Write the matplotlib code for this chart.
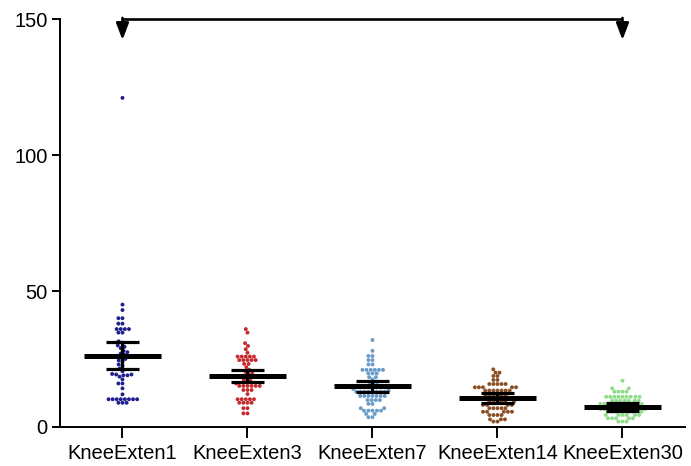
import numpy as np
import pandas as pd
import matplotlib
matplotlib.use("Agg")
import matplotlib.pyplot as plt
import seaborn as sns

groups = ["KneeExten1", "KneeExten3", "KneeExten7", "KneeExten14", "KneeExten30"]
colors = ["#1f1f8f", "#c62a2f", "#6a9bc9", "#8a4f24", "#8fdc8a"]

knee1 = [121, 45, 43, 40, 40, 38, 38, 36, 36, 36, 36, 34.7, 34.7, 31.5, 31, 30,
         29.5, 29, 28, 27.5, 27, 26.5, 26, 25.5, 25, 24.5, 24, 23, 22.5, 21.5,
         20.5, 19.5, 19.3, 19.3, 19, 19, 18.5, 17.5, 16, 16, 14.2, 12,
         10.2, 10.2, 10.2, 10.2, 10.2, 10.2, 10.2, 10.2, 8.9, 8.9, 8.9]
knee3 = [36, 34.7, 30.8, 29.8, 28.6, 27.3, 25.9, 25.9, 25.9, 25.9, 25.9,
         24.6, 24.6, 24.6, 24.6, 24.6, 23.2, 23.2, 22, 21, 20.5, 20, 19.5, 19,
         18.5, 18, 17.5, 17, 16.5, 16, 15.1, 15.1, 15.1, 15.1, 15.1, 15.1,
         13.6, 13.6, 13.6, 12.1, 10.2, 10.2, 10.2, 10.2, 10.2,
         8.9, 8.9, 8.9, 8.9, 6.9, 6.9, 5, 5]
knee7 = [32, 28, 26.1, 26.1, 24.6, 24.6, 23, 23, 21, 21, 21, 21, 21, 21,
         19.7, 19.7, 19.7, 18.3, 18.3, 17.5, 16.5, 16, 15.5, 15, 14.5, 14, 13.5,
         13, 13, 13, 13, 13, 13, 13, 13, 11.4, 11.4, 11.4, 11.4, 11.4, 11.4, 11.4,
         9.9, 9.9, 9.9, 9.9, 8.5, 8.5, 6.9, 6.9, 6, 6, 6, 6, 6, 4.8, 4.8, 3.6, 3.6]
knee14 = [21.2, 20, 20, 18.75, 18.75, 17.3, 17.3, 15.8, 15.8, 15.8, 15.8, 15.8,
          14.6, 14.6, 14.6, 14.6, 14.6, 13.4, 13.4, 13.4, 13.4, 13.4, 13.4, 13.4,
          11.8, 11.8, 11.8, 11.8, 11.8, 11.8, 10.5, 10.5, 10.5, 10.5, 10.5, 10.5,
          9.3, 9.3, 9.3, 9.3, 9.3, 9.3, 8.1, 8.1, 8.1, 8.1,
          6.9, 6.9, 6.9, 6.9, 6.9, 5.6, 5.6, 5.6, 5.6, 5.6,
          4.4, 4.4, 4.4, 4.4, 2.8, 2.8, 2.8, 2, 2]
knee30 = [17, 14.2, 14.2, 13, 13, 13, 13, 11.1, 11.1, 11.1, 11.1, 11.1, 11.1,
          11.1, 11.1, 11.1, 9.7, 9.7, 9.7, 9.7, 9.7, 9.7, 9.7,
          8.5, 8.5, 8.5, 8.5, 8.5, 8.5, 7.5, 7.5, 7.5, 7.5, 7.5, 7.5,
          6.5, 6.5, 6.5, 6.5, 6.5, 5.6, 5.6, 5.6, 5.6, 5.6, 5.6,
          4.4, 4.4, 4.4, 4.4, 4.4, 4.4, 3.2, 3.2, 3.2, 3.2, 3.2, 2, 2, 2]

# mean and error limits for each group
means = [26.1, 18.8, 15.1, 10.5, 7.5]
err_low = [21.2, 16.4, 13.0, 8.7, 5.9]
err_high = [31.4, 21.0, 17.0, 12.6, 8.9]

values = [knee1, knee3, knee7, knee14, knee30]
df = pd.DataFrame({
    "group": np.repeat(groups, [len(v) for v in values]),
    "value": np.concatenate(values),
})

plt.rcParams["font.family"] = ["Liberation Sans", "DejaVu Sans"]

fig = plt.figure(figsize=(6.91, 4.66), dpi=100)
ax = fig.add_axes([0.0868, 0.0837, 0.9045, 0.8755])

sns.swarmplot(data=df, x="group", y="value", hue="group", order=groups,
              hue_order=groups, palette=colors, size=2.8, legend=False, ax=ax,
              zorder=2)

pos = np.arange(len(groups))
ax.hlines(means, pos - 0.31, pos + 0.31, color="black", lw=3.6, zorder=4)
ax.hlines(err_low, pos - 0.13, pos + 0.13, color="black", lw=2.3, zorder=4)
ax.hlines(err_high, pos - 0.13, pos + 0.13, color="black", lw=2.3, zorder=4)
ax.vlines(pos, err_low, err_high, color="black", lw=2.3, zorder=4)

# comparison bracket between first and last group
ax.plot([pos[0], pos[-1]], [150, 150], color="black", lw=1.9, clip_on=False,
        solid_capstyle="butt")
for p in (pos[0], pos[-1]):
    ax.annotate("", xy=(p, 142.3), xytext=(p, 150.4),
                arrowprops=dict(arrowstyle="-|>,head_width=0.38,head_length=1.0",
                                color="black", lw=1.9, shrinkA=0, shrinkB=0),
                annotation_clip=False)

ax.set_xlim(-0.5, 4.5)
ax.set_ylim(0, 150)
ax.set_yticks([0, 50, 100, 150])
ax.set_xlabel("")
ax.set_ylabel("")

for side in ("top", "right"):
    ax.spines[side].set_visible(False)
for side in ("left", "bottom"):
    ax.spines[side].set_linewidth(1.4)

ax.tick_params(axis="y", length=6, width=1.4, labelsize=14.5, pad=3)
ax.tick_params(axis="x", length=8, width=1.4, labelsize=14.5, pad=4)

fig.savefig("out.png", dpi=100)
